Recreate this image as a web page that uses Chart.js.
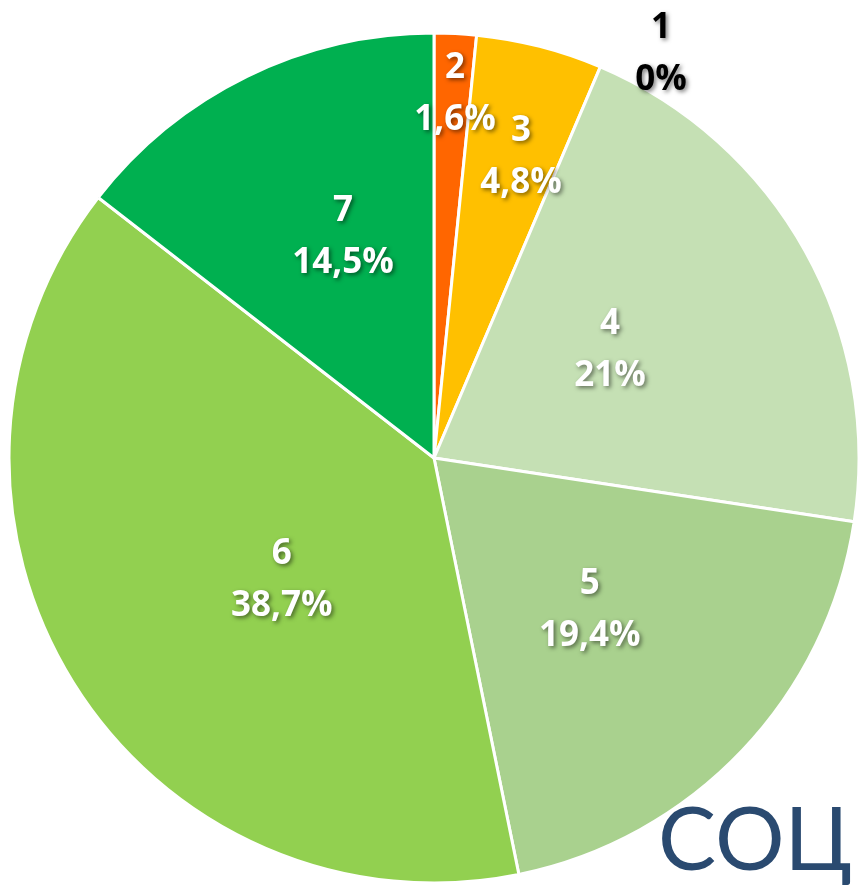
<!DOCTYPE html>
<html><head><meta charset="utf-8">
<script src="https://cdn.jsdelivr.net/npm/chart.js@4/dist/chart.umd.min.js"></script>
<style>html,body{margin:0;padding:0;background:#fff;overflow:hidden;} #wrap{width:858px;height:886px;position:relative;}</style>
</head><body><div id="wrap"><canvas id="c"></canvas></div>
<script>
const categories = ['1', '2', '3', '4', '5', '6', '7'];
const shares = [0, 1.6, 4.8, 21, 19.4, 38.7, 14.5];
const shareLabels = ['0%', '1,6%', '4,8%', '21%', '19,4%', '38,7%', '14,5%'];
const sliceColors = ['#7F7F7F', '#FF6600', '#FFC000', '#C5E0B4', '#A9D18E', '#92D050', '#00B050'];
const watermarkText = 'СОЦ';
// label placement relative to each slice: radius fraction and angular shift (deg)
const labelRadius = [1.095, 0.863, 0.742, 0.488, 0.508, 0.456, 0.567];
const labelShift = [29.2, 0.4, 1.6, -2.8, 0.3, -6.4, 3.9];

const labelPlugin = {
  id: 'sliceLabels',
  afterDatasetsDraw(chart) {
    const ctx = chart.ctx;
    const meta = chart.getDatasetMeta(0);
    ctx.save();
    ctx.font = 'bold 35px "Open Sans", "Liberation Sans", sans-serif';
    ctx.textAlign = 'center';
    ctx.textBaseline = 'middle';
    meta.data.forEach((arc, i) => {
      const p = arc.getProps(['x', 'y', 'startAngle', 'endAngle', 'outerRadius'], true);
      const a = (p.startAngle + p.endAngle) / 2 + labelShift[i] * Math.PI / 180;
      const r = p.outerRadius * labelRadius[i];
      const x = p.x + r * Math.cos(a);
      const y = p.y + r * Math.sin(a) + 2;
      ctx.shadowColor = 'rgba(0,0,0,0.5)';
      ctx.shadowOffsetX = 2;
      ctx.shadowOffsetY = 2;
      ctx.shadowBlur = 4;
      ctx.fillStyle = shares[i] === 0 ? '#000000' : '#FFFFFF';
      ctx.fillText(categories[i], x, y - 26);
      ctx.fillText(shareLabels[i], x, y + 26);
    });
    ctx.restore();
  },
  afterDraw(chart) {
    const ctx = chart.ctx;
    ctx.save();
    ctx.font = '400 87px Lato, "Open Sans", sans-serif';
    ctx.fillStyle = '#2A4A70';
    ctx.textAlign = 'left';
    ctx.textBaseline = 'alphabetic';
    ctx.fillText(watermarkText, 658, 870);
    ctx.restore();
  }
};

new Chart(document.getElementById('c'), {
  type: 'pie',
  data: {
    labels: categories,
    datasets: [{
      data: shares,
      backgroundColor: sliceColors,
      borderColor: '#FFFFFF',
      borderWidth: 3
    }]
  },
  options: {
    responsive: true,
    maintainAspectRatio: false,
    animation: false,
    radius: 425,
    layout: { padding: { left: 10, right: 0, top: 33, bottom: 3 } },
    plugins: { legend: { display: false }, tooltip: { enabled: false } }
  },
  plugins: [labelPlugin]
});
</script>
</body></html>
